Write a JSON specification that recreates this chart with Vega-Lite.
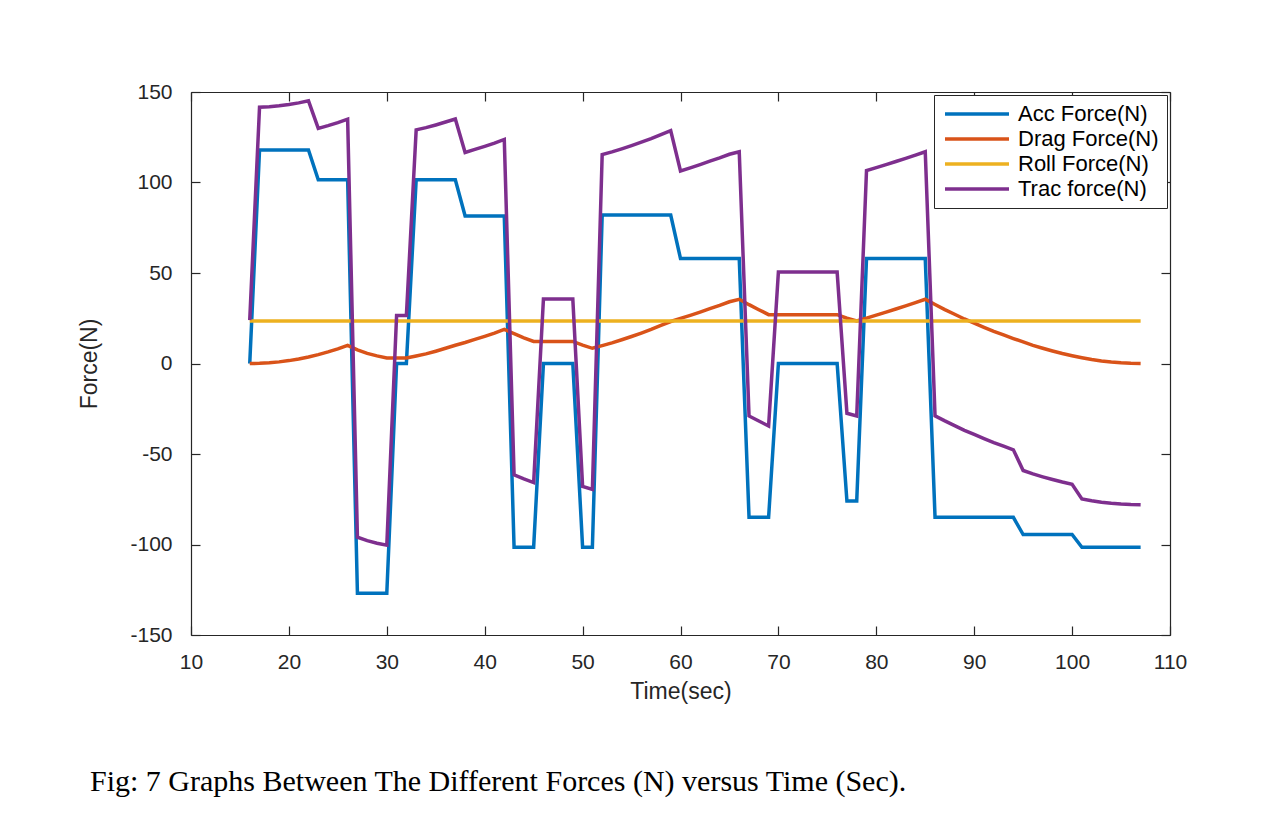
{
  "$schema": "https://vega.github.io/schema/vega-lite/v6.json",
  "autosize": "none",
  "padding": {"left": 191, "top": 92, "right": 115, "bottom": 198},
  "width": 979,
  "height": 543,
  "background": "white",
  "title": {
    "text": "Fig: 7 Graphs Between The Different Forces (N) versus Time (Sec).",
    "orient": "bottom",
    "anchor": "start",
    "frame": "group",
    "dx": -101,
    "offset": 64,
    "font": "Liberation Serif",
    "fontSize": 30,
    "fontWeight": "normal",
    "color": "#000000"
  },
  "config": {
    "view": {"stroke": null},
    "font": "Liberation Sans",
    "axis": {
      "grid": false,
      "domainColor": "#262626",
      "domainWidth": 1.2,
      "tickColor": "#262626",
      "tickWidth": 1.2,
      "labelColor": "#262626",
      "titleColor": "#262626",
      "labelFontSize": 21,
      "titleFontSize": 23,
      "titleFontWeight": "normal",
      "labelFont": "Liberation Sans",
      "titleFont": "Liberation Sans",
      "labelFlush": false,
      "labelOverlap": false
    },
    "legend": {
      "labelFont": "Liberation Sans"
    }
  },
  "data": {
    "values": [
      {"t": 16, "acc": 0, "drag": 0, "roll": 23.5, "trac": 24},
      {"t": 17, "acc": 118, "drag": 0.1, "roll": 23.5, "trac": 141.6},
      {"t": 18, "acc": 118, "drag": 0.4, "roll": 23.5, "trac": 141.9},
      {"t": 19, "acc": 118, "drag": 0.9, "roll": 23.5, "trac": 142.4},
      {"t": 20, "acc": 118, "drag": 1.6, "roll": 23.5, "trac": 143.1},
      {"t": 21, "acc": 118, "drag": 2.5, "roll": 23.5, "trac": 144},
      {"t": 22, "acc": 118, "drag": 3.6, "roll": 23.5, "trac": 145.1},
      {"t": 23, "acc": 101.5, "drag": 4.9, "roll": 23.5, "trac": 129.9},
      {"t": 24, "acc": 101.5, "drag": 6.4, "roll": 23.5, "trac": 131.4},
      {"t": 25, "acc": 101.5, "drag": 8.1, "roll": 23.5, "trac": 133.1},
      {"t": 26, "acc": 101.5, "drag": 10, "roll": 23.5, "trac": 135},
      {"t": 27, "acc": -127, "drag": 7.5, "roll": 23.5, "trac": -96},
      {"t": 28, "acc": -127, "drag": 5.6, "roll": 23.5, "trac": -97.9},
      {"t": 29, "acc": -127, "drag": 4.2, "roll": 23.5, "trac": -99.3},
      {"t": 30, "acc": -127, "drag": 3.1, "roll": 23.5, "trac": -100.4},
      {"t": 31, "acc": 0, "drag": 3, "roll": 23.5, "trac": 26.5},
      {"t": 32, "acc": 0, "drag": 3, "roll": 23.5, "trac": 26.5},
      {"t": 33, "acc": 101.5, "drag": 4.1, "roll": 23.5, "trac": 129.1},
      {"t": 34, "acc": 101.5, "drag": 5.3, "roll": 23.5, "trac": 130.3},
      {"t": 35, "acc": 101.5, "drag": 6.8, "roll": 23.5, "trac": 131.8},
      {"t": 36, "acc": 101.5, "drag": 8.4, "roll": 23.5, "trac": 133.4},
      {"t": 37, "acc": 101.5, "drag": 10.1, "roll": 23.5, "trac": 135.1},
      {"t": 38, "acc": 81.5, "drag": 11.6, "roll": 23.5, "trac": 116.6},
      {"t": 39, "acc": 81.5, "drag": 13.3, "roll": 23.5, "trac": 118.3},
      {"t": 40, "acc": 81.5, "drag": 15, "roll": 23.5, "trac": 120},
      {"t": 41, "acc": 81.5, "drag": 16.8, "roll": 23.5, "trac": 121.8},
      {"t": 42, "acc": 81.5, "drag": 18.8, "roll": 23.5, "trac": 123.8},
      {"t": 43, "acc": -101.5, "drag": 16.5, "roll": 23.5, "trac": -61.5},
      {"t": 44, "acc": -101.5, "drag": 14.2, "roll": 23.5, "trac": -63.8},
      {"t": 45, "acc": -101.5, "drag": 12.2, "roll": 23.5, "trac": -65.8},
      {"t": 46, "acc": 0, "drag": 12.2, "roll": 23.5, "trac": 35.7},
      {"t": 47, "acc": 0, "drag": 12.2, "roll": 23.5, "trac": 35.7},
      {"t": 48, "acc": 0, "drag": 12.2, "roll": 23.5, "trac": 35.7},
      {"t": 49, "acc": 0, "drag": 12.2, "roll": 23.5, "trac": 35.7},
      {"t": 50, "acc": -101.5, "drag": 10.1, "roll": 23.5, "trac": -67.9},
      {"t": 51, "acc": -101.5, "drag": 8.4, "roll": 23.5, "trac": -69.6},
      {"t": 52, "acc": 82, "drag": 9.9, "roll": 23.5, "trac": 115.4},
      {"t": 53, "acc": 82, "drag": 11.4, "roll": 23.5, "trac": 116.9},
      {"t": 54, "acc": 82, "drag": 13.1, "roll": 23.5, "trac": 118.6},
      {"t": 55, "acc": 82, "drag": 14.9, "roll": 23.5, "trac": 120.4},
      {"t": 56, "acc": 82, "drag": 16.8, "roll": 23.5, "trac": 122.3},
      {"t": 57, "acc": 82, "drag": 18.8, "roll": 23.5, "trac": 124.3},
      {"t": 58, "acc": 82, "drag": 21, "roll": 23.5, "trac": 126.5},
      {"t": 59, "acc": 82, "drag": 23.2, "roll": 23.5, "trac": 128.7},
      {"t": 60, "acc": 58, "drag": 24.9, "roll": 23.5, "trac": 106.4},
      {"t": 61, "acc": 58, "drag": 26.6, "roll": 23.5, "trac": 108.1},
      {"t": 62, "acc": 58, "drag": 28.4, "roll": 23.5, "trac": 109.9},
      {"t": 63, "acc": 58, "drag": 30.3, "roll": 23.5, "trac": 111.8},
      {"t": 64, "acc": 58, "drag": 32.1, "roll": 23.5, "trac": 113.6},
      {"t": 65, "acc": 58, "drag": 34.1, "roll": 23.5, "trac": 115.6},
      {"t": 66, "acc": 58, "drag": 35.5, "roll": 23.5, "trac": 117},
      {"t": 67, "acc": -85, "drag": 32.5, "roll": 23.5, "trac": -29},
      {"t": 68, "acc": -85, "drag": 29.7, "roll": 23.5, "trac": -31.8},
      {"t": 69, "acc": -85, "drag": 27, "roll": 23.5, "trac": -34.5},
      {"t": 70, "acc": 0, "drag": 27, "roll": 23.5, "trac": 50.5},
      {"t": 71, "acc": 0, "drag": 27, "roll": 23.5, "trac": 50.5},
      {"t": 72, "acc": 0, "drag": 27, "roll": 23.5, "trac": 50.5},
      {"t": 73, "acc": 0, "drag": 27, "roll": 23.5, "trac": 50.5},
      {"t": 74, "acc": 0, "drag": 27, "roll": 23.5, "trac": 50.5},
      {"t": 75, "acc": 0, "drag": 27, "roll": 23.5, "trac": 50.5},
      {"t": 76, "acc": 0, "drag": 27, "roll": 23.5, "trac": 50.5},
      {"t": 77, "acc": -76, "drag": 25, "roll": 23.5, "trac": -27.5},
      {"t": 78, "acc": -76, "drag": 23.5, "roll": 23.5, "trac": -29},
      {"t": 79, "acc": 58, "drag": 25.1, "roll": 23.5, "trac": 106.6},
      {"t": 80, "acc": 58, "drag": 26.7, "roll": 23.5, "trac": 108.2},
      {"t": 81, "acc": 58, "drag": 28.4, "roll": 23.5, "trac": 109.9},
      {"t": 82, "acc": 58, "drag": 30.1, "roll": 23.5, "trac": 111.6},
      {"t": 83, "acc": 58, "drag": 31.8, "roll": 23.5, "trac": 113.3},
      {"t": 84, "acc": 58, "drag": 33.6, "roll": 23.5, "trac": 115.1},
      {"t": 85, "acc": 58, "drag": 35.5, "roll": 23.5, "trac": 117},
      {"t": 86, "acc": -85, "drag": 32.6, "roll": 23.5, "trac": -28.9},
      {"t": 87, "acc": -85, "drag": 29.8, "roll": 23.5, "trac": -31.7},
      {"t": 88, "acc": -85, "drag": 27.2, "roll": 23.5, "trac": -34.3},
      {"t": 89, "acc": -85, "drag": 24.6, "roll": 23.5, "trac": -36.9},
      {"t": 90, "acc": -85, "drag": 22.3, "roll": 23.5, "trac": -39.2},
      {"t": 91, "acc": -85, "drag": 20, "roll": 23.5, "trac": -41.5},
      {"t": 92, "acc": -85, "drag": 17.8, "roll": 23.5, "trac": -43.7},
      {"t": 93, "acc": -85, "drag": 15.8, "roll": 23.5, "trac": -45.7},
      {"t": 94, "acc": -85, "drag": 13.8, "roll": 23.5, "trac": -47.7},
      {"t": 95, "acc": -94.5, "drag": 11.9, "roll": 23.5, "trac": -59.1},
      {"t": 96, "acc": -94.5, "drag": 10, "roll": 23.5, "trac": -61},
      {"t": 97, "acc": -94.5, "drag": 8.4, "roll": 23.5, "trac": -62.6},
      {"t": 98, "acc": -94.5, "drag": 6.9, "roll": 23.5, "trac": -64.1},
      {"t": 99, "acc": -94.5, "drag": 5.5, "roll": 23.5, "trac": -65.5},
      {"t": 100, "acc": -94.5, "drag": 4.3, "roll": 23.5, "trac": -66.7},
      {"t": 101, "acc": -101.5, "drag": 3.2, "roll": 23.5, "trac": -74.8},
      {"t": 102, "acc": -101.5, "drag": 2.2, "roll": 23.5, "trac": -75.8},
      {"t": 103, "acc": -101.5, "drag": 1.4, "roll": 23.5, "trac": -76.6},
      {"t": 104, "acc": -101.5, "drag": 0.8, "roll": 23.5, "trac": -77.2},
      {"t": 105, "acc": -101.5, "drag": 0.35, "roll": 23.5, "trac": -77.65},
      {"t": 106, "acc": -101.5, "drag": 0.1, "roll": 23.5, "trac": -77.9},
      {"t": 107, "acc": -101.5, "drag": 0, "roll": 23.5, "trac": -78}
    ]
  },
  "transform": [
    {"fold": ["acc", "drag", "roll", "trac"], "as": ["series", "force"]}
  ],
  "resolve": {"axis": {"x": "independent", "y": "independent"}},
  "layer": [
    {
      "mark": {"type": "line", "strokeWidth": 3.5, "clip": true},
      "encoding": {
        "x": {
          "field": "t", "type": "quantitative",
          "scale": {"domain": [10, 110], "nice": false, "zero": false},
          "axis": {
            "orient": "bottom",
            "title": "Time(sec)",
            "values": [10, 20, 30, 40, 50, 60, 70, 80, 90, 100, 110],
            "labelExpr": "'' + datum.value",
            "tickSize": -9,
            "labelPadding": 25,
            "titlePadding": 8
          }
        },
        "y": {
          "field": "force", "type": "quantitative",
          "scale": {"domain": [-150, 150], "nice": false, "zero": false},
          "axis": {
            "orient": "left",
            "title": "Force(N)",
            "values": [-150, -100, -50, 0, 50, 100, 150],
            "labelExpr": "'' + datum.value",
            "tickSize": -9,
            "labelPadding": 28,
            "titlePadding": 28
          }
        },
        "color": {
          "field": "series", "type": "nominal",
          "scale": {
            "domain": ["acc", "drag", "roll", "trac"],
            "range": ["#0072BD", "#D95319", "#EDB120", "#7E2F8E"]
          },
          "legend": {
            "title": null,
            "orient": "top-right",
            "offset": 3,
            "labelExpr": "{'acc': 'Acc Force(N)', 'drag': 'Drag Force(N)', 'roll': 'Roll Force(N)', 'trac': 'Trac force(N)'}[datum.value]",
            "labelFontSize": 22,
            "labelColor": "#000000",
            "symbolType": "M-1,0H7",
            "symbolSize": 256,
            "symbolStrokeWidth": 3.5,
            "labelOffset": 54,
            "rowPadding": 3,
            "padding": 8,
            "strokeColor": "#262626",
            "fillColor": "#ffffff"
          }
        }
      }
    },
    {
      "mark": {"type": "line", "strokeOpacity": 0},
      "encoding": {
        "x": {
          "field": "t", "type": "quantitative",
          "axis": {
            "orient": "top", "title": null, "labels": false,
            "values": [10, 20, 30, 40, 50, 60, 70, 80, 90, 100, 110],
            "tickSize": -9
          }
        },
        "y": {
          "field": "force", "type": "quantitative",
          "axis": {
            "orient": "right", "title": null, "labels": false,
            "values": [-150, -100, -50, 0, 50, 100, 150],
            "tickSize": -9
          }
        }
      }
    }
  ]
}
